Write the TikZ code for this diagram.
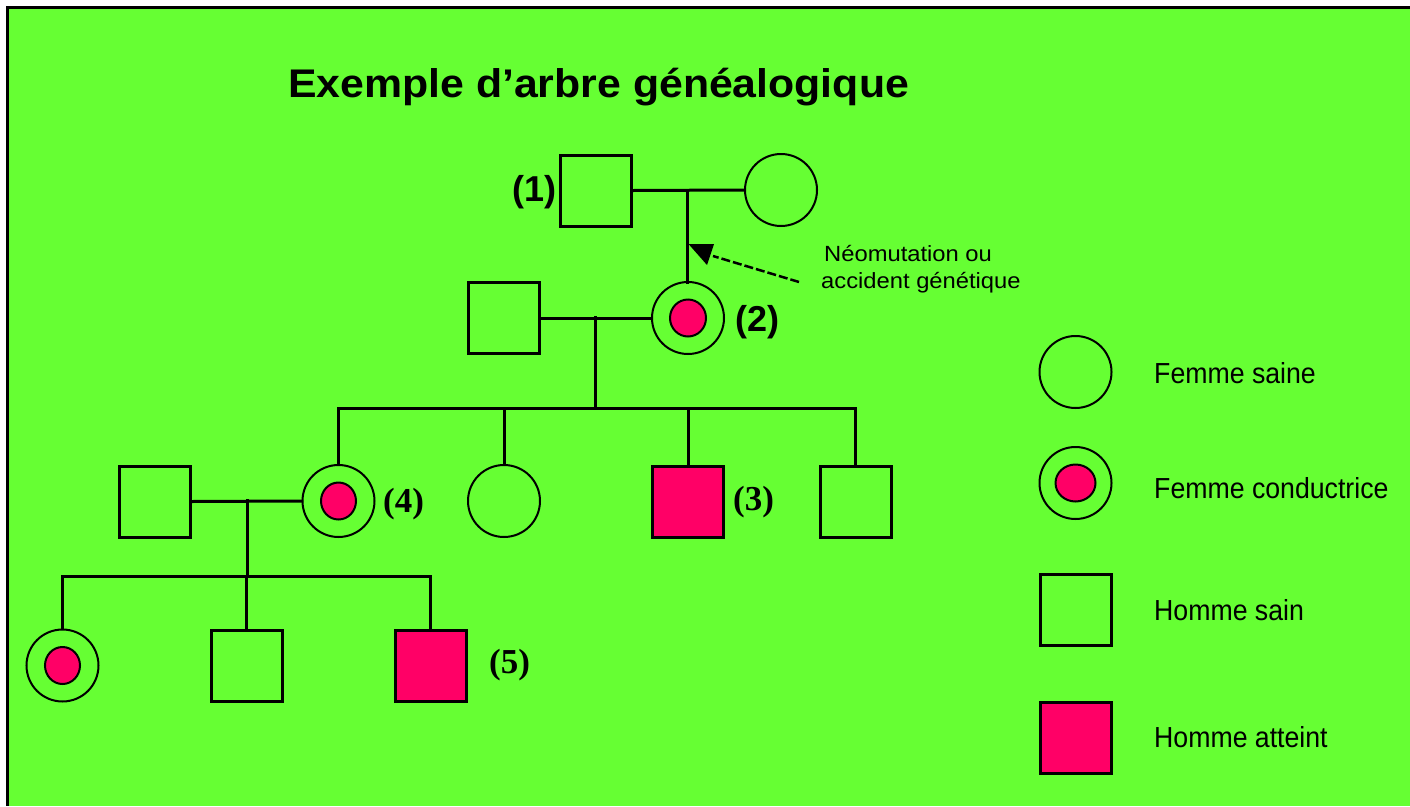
\documentclass[tikz,border=0pt]{standalone}
\usepackage{fontspec}
\setmainfont{Liberation Sans}
\newfontfamily\legendfont[FakeStretch=0.92]{Liberation Sans}
\newfontfamily\titlefont[FakeStretch=1.07]{Liberation Sans}
\newfontfamily\annfont[FakeStretch=1.08]{Liberation Sans}
\newfontfamily\serlab{Liberation Serif}
\definecolor{bggreen}{HTML}{66FF33}
\definecolor{pinkred}{HTML}{FF0066}
\tikzset{
  male/.style={draw=black, line width=3pt, rectangle, minimum size=71pt, inner sep=0pt},
  affected/.style={male, fill=pinkred},
  female/.style={draw=black, line width=2pt, circle, minimum size=72pt, inner sep=0pt},
  carrier/.style={female, path picture={\filldraw[fill=pinkred, draw=black, line width=2pt] (path picture bounding box.center) ellipse [x radius=#1, y radius=18.5pt];}},
  carrier/.default=18pt,
  link/.style={line width=3pt, line cap=rect},
  lab/.style={inner sep=0pt, anchor=base west},
}
\begin{document}
\begin{tikzpicture}[x=1pt, y=-1pt]
\useasboundingbox (0,0) rectangle (1410,806);
\fill[white] (0,0) rectangle (1410,806);
\fill[bggreen] (6,6) rectangle (1410,806);
\draw[line width=3pt] (6,7.5) -- (1410,7.5);
\draw[line width=2.5pt] (7.3,6) -- (7.3,806);

% title
\node[lab, font=\fontsize{40}{40}\titlefont\bfseries] (title) at (288,97) {Exemple d’arbre généalogique};

% generation 1
\node[male] (m1) at (596,190.5) {};
\node[female] (f1) at (781,190) {};
\node[lab, font=\fontsize{36}{36}\bfseries\selectfont] (l1) at (512,201) {(1)};
\coordinate (c1) at (687,190);
\draw[link] (m1.east) -- (f1.west);
\draw[link] (c1) -- (c1 |- 0,282);

% generation 2
\node[male] (m2) at (504,318) {};
\node[carrier] (f2) at (688,318) {};
\node[lab, font=\fontsize{36}{36}\bfseries\selectfont] (l2) at (735,331) {(2)};
\draw[link] (m2.east) -- (f2.west);
\coordinate (c2) at (595,317);
\coordinate (bar2) at (595,408);
\draw[link] (c2) -- (bar2);

% mutation annotation
\node[lab, font=\fontsize{22}{22}\annfont] (ann1) at (824,261) {Néomutation ou};
\node[lab, font=\fontsize{22}{22}\annfont] (ann2) at (821,288) {accident génétique};
\coordinate (arrtail) at (799,282);
\coordinate (arrtip) at (713,256);
\draw[line width=2.5pt, dash pattern=on 9pt off 3pt] (arrtail) -- (arrtip);
\fill (688.5,244) -- (714,244) -- (707,265) -- cycle;

% generation 3
\node[carrier=17.5pt] (f4) at (338.5,501) {};
\node[female] (f3) at (504,501) {};
\node[affected] (m3) at (688,501.5) {};
\node[male] (m3r) at (855.5,501.5) {};
\node[male] (m4) at (154.5,501.5) {};
\node[lab, font=\fontsize{35}{35}\bfseries\serlab] (l4) at (383,512) {(4)};
\node[lab, font=\fontsize{35}{35}\bfseries\serlab] (l3) at (733,510) {(3)};
\draw[link] (f4.north) |- (bar2) -| (m3r.north);
\draw[link] (f3.north) -- (f3.north |- bar2);
\draw[link] (m3.north) -- (m3.north |- bar2);

% generation 3 couple
\draw[link] (m4.east) -- (f4.west);
\coordinate (c4) at (247,500);
\coordinate (bar4) at (247,576);
\draw[link] (c4) -- (bar4);

% generation 4
\node[carrier=17.5pt] (f5) at (62.5,665.5) {};
\node[male] (m5) at (246.5,665.5) {};
\node[affected] (m6) at (430.5,665.5) {};
\node[lab, font=\fontsize{35}{35}\bfseries\serlab] (l5) at (489,673) {(5)};
\draw[link] (f5.north) |- (bar4) -| (m6.north);
\draw[link] (m5.north) -- (m5.north |- bar4);

% legend
\node[female] (k1) at (1075.5,372) {};
\node[carrier=20pt] (k2) at (1075.5,483) {};
\node[male] (k3) at (1075.5,610) {};
\node[affected] (k4) at (1075.5,738) {};
\node[lab, font=\fontsize{29}{29}\legendfont] (t1) at (1154,383) {Femme saine};
\node[lab, font=\fontsize{29}{29}\legendfont] (t2) at (1154,498) {Femme conductrice};
\node[lab, font=\fontsize{29}{29}\legendfont] (t3) at (1154,620) {Homme sain};
\node[lab, font=\fontsize{29}{29}\legendfont] (t4) at (1154,747) {Homme atteint};
\end{tikzpicture}
\end{document}
